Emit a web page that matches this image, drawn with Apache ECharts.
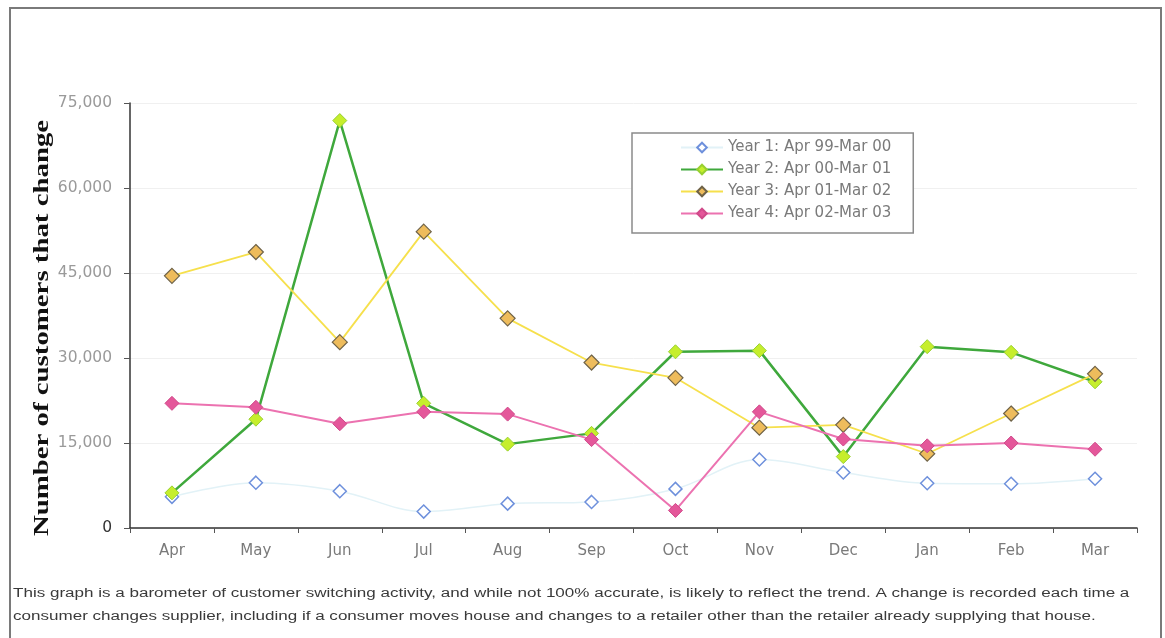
<!DOCTYPE html>
<html>
<head>
<meta charset="utf-8">
<script src="https://cdn.jsdelivr.net/npm/echarts@6/dist/echarts.min.js"></script>
<style>
  html, body { margin: 0; padding: 0; background: #fff; }
  #chart { width: 1165px; height: 638px; }
</style>
</head>
<body>
<div id="chart"></div>
<script>
// Months of the switching year (April to March)
const months = ['Apr', 'May', 'Jun', 'Jul', 'Aug', 'Sep', 'Oct', 'Nov', 'Dec', 'Jan', 'Feb', 'Mar'];

// Customers that changed supplier each month, per year
const year1 = [5500, 8000, 6500, 2900, 4300, 4600, 6900, 12100, 9800, 7900, 7800, 8700];
const year2 = [6200, 19200, 71900, 22000, 14800, 16700, 31100, 31300, 12600, 32000, 31000, 25800];
const year3 = [44500, 48700, 32800, 52300, 37000, 29200, 26500, 17700, 18200, 13100, 20200, 27200];
const year4 = [22000, 21300, 18400, 20500, 20100, 15600, 3100, 20500, 15700, 14500, 15000, 13900];

const seriesNames = [
  'Year 1: Apr 99-Mar 00',
  'Year 2: Apr 00-Mar 01',
  'Year 3: Apr 01-Mar 02',
  'Year 4: Apr 02-Mar 03'
];

// Value axis ticks
const yTicks = [0, 15000, 30000, 45000, 60000, 75000];

const footnote1 = 'This graph is a barometer of customer switching activity, and while not 100% accurate, is likely to reflect the trend. A change is recorded each time a';
const footnote2 = 'consumer changes supplier, including if a consumer moves house and changes to a retailer other than the retailer already supplying that house.';

const chart = echarts.init(document.getElementById('chart'), null, { renderer: 'canvas' });

const fmt = v => v.toLocaleString('en-US');
const sans = '"DejaVu Sans", Verdana, sans-serif';

chart.setOption({
  animation: false,
  backgroundColor: '#ffffff',
  grid: { left: 130, right: 28, top: 103, bottom: 110, containLabel: false },
  legend: {
    orient: 'vertical',
    left: 632,
    top: 133,
    padding: [7, 22, 12, 48],
    itemWidth: 42,
    itemHeight: 12,
    itemGap: 7,
    backgroundColor: '#ffffff',
    borderColor: '#8a8a8a',
    borderWidth: 1.5,
    textStyle: { fontFamily: sans, fontSize: 15, color: '#7a7a7a' },
    data: seriesNames
  },
  xAxis: {
    type: 'category',
    data: months,
    boundaryGap: true,
    axisLine: { lineStyle: { color: '#333333', width: 1.5 } },
    axisTick: { show: true, length: 5, lineStyle: { color: '#555555' } },
    axisLabel: { fontFamily: sans, fontSize: 15, color: '#7a7a7a', margin: 16 },
    splitLine: { show: false }
  },
  yAxis: {
    type: 'value',
    min: yTicks[0],
    max: yTicks[yTicks.length - 1],
    interval: yTicks[1] - yTicks[0],
    axisLine: { show: true, lineStyle: { color: '#333333', width: 1.5 } },
    axisTick: { show: true, length: 6, lineStyle: { color: '#555555' } },
    axisLabel: {
      fontFamily: sans,
      fontSize: 15.5,
      margin: 18,
      color: (v) => (Number(v) === 0 ? '#333333' : '#9a9a9a'),
      formatter: (v) => fmt(v)
    },
    splitLine: { show: true, lineStyle: { color: '#f0f0f0', width: 1 } }
  },
  series: [
    {
      name: seriesNames[0],
      type: 'line',
      data: year1,
      smooth: 0.35,
      symbol: 'diamond',
      symbolSize: 13,
      z: 2,
      lineStyle: { color: '#e2f2f7', width: 1.5 },
      itemStyle: { color: '#ffffff', borderColor: '#6e90dc', borderWidth: 1.5 }
    },
    {
      name: seriesNames[1],
      type: 'line',
      data: year2,
      symbol: 'diamond',
      symbolSize: 14,
      z: 3,
      lineStyle: { color: '#3fa83c', width: 2.5 },
      itemStyle: { color: '#c6ee2c', borderColor: '#98d030', borderWidth: 1 }
    },
    {
      name: seriesNames[2],
      type: 'line',
      data: year3,
      symbol: 'diamond',
      symbolSize: 15,
      z: 4,
      lineStyle: { color: '#f6e04c', width: 1.8 },
      itemStyle: { color: '#eebc5c', borderColor: '#6f6348', borderWidth: 1.2 }
    },
    {
      name: seriesNames[3],
      type: 'line',
      data: year4,
      symbol: 'diamond',
      symbolSize: 14,
      z: 5,
      lineStyle: { color: '#ec72b0', width: 2 },
      itemStyle: { color: '#e4579a', borderColor: '#d04a8a', borderWidth: 1 }
    }
  ],
  graphic: [
    {
      type: 'rect',
      silent: true,
      z: -1,
      shape: { x: 10, y: 8, width: 1151, height: 660 },
      style: { fill: 'none', stroke: '#7a7a7a', lineWidth: 2 }
    },
    {
      type: 'text',
      silent: true,
      x: 42,
      y: 328,
      rotation: Math.PI / 2,
      scaleX: 1.31,
      style: {
        text: 'Number of customers that change',
        font: 'bold 22px "Liberation Serif", "Times New Roman", serif',
        fill: '#111111',
        textAlign: 'center',
        textVerticalAlign: 'middle'
      }
    },
    {
      type: 'text',
      silent: true,
      x: 13,
      y: 594,
      scaleX: 1.42,
      style: {
        text: footnote1,
        font: '12px "Liberation Sans", Arial, sans-serif',
        fill: '#3a3a3a',
        textAlign: 'left',
        textVerticalAlign: 'middle'
      }
    },
    {
      type: 'text',
      silent: true,
      x: 13,
      y: 617,
      scaleX: 1.42,
      style: {
        text: footnote2,
        font: '12px "Liberation Sans", Arial, sans-serif',
        fill: '#3a3a3a',
        textAlign: 'left',
        textVerticalAlign: 'middle'
      }
    }
  ]
});
</script>
</body>
</html>
